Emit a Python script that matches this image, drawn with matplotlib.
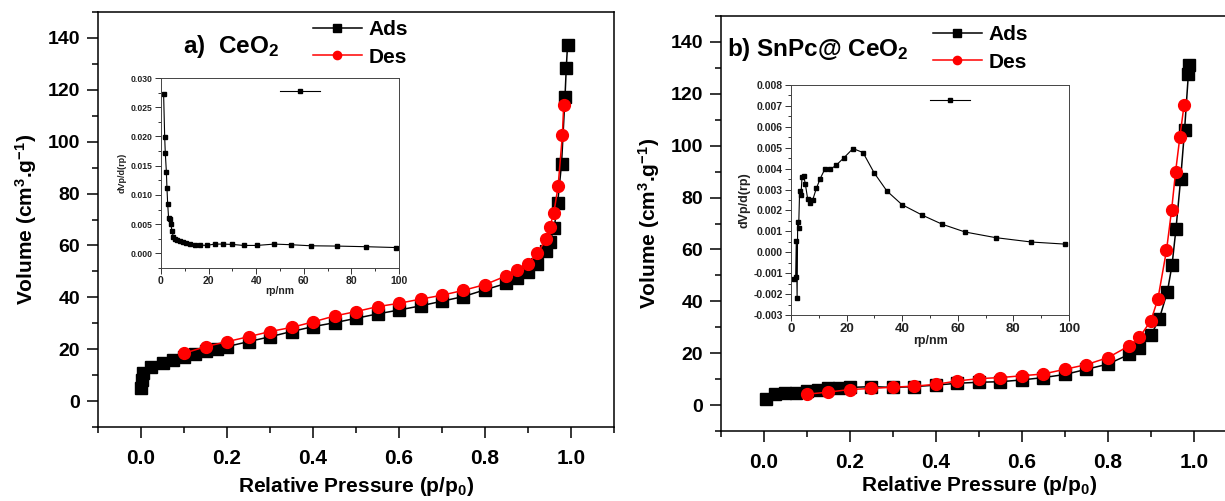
import matplotlib.pyplot as plt
from matplotlib.ticker import MultipleLocator, FormatStrFormatter
from matplotlib.lines import Line2D

plt.rcParams['font.family'] = ['Liberation Sans', 'DejaVu Sans']
plt.rcParams['font.weight'] = 'bold'
plt.rcParams['mathtext.default'] = 'regular'

# a) CeO2 - isotherm
ceo2_ads_p = [0.0, 0.002, 0.005, 0.024, 0.05, 0.075, 0.1, 0.126, 0.151, 0.176, 0.2, 0.25, 0.3,
              0.35, 0.4, 0.45, 0.5, 0.55, 0.6, 0.65, 0.7, 0.75, 0.8, 0.85, 0.875, 0.9, 0.92,
              0.941, 0.951, 0.961, 0.969, 0.978, 0.986, 0.989, 0.992]
ceo2_ads_v = [4.9, 8.1, 10.7, 13.0, 14.5, 15.8, 16.9, 18.0, 19.2, 20.1, 21.0, 22.9, 24.8,
              26.8, 28.7, 30.2, 31.9, 33.6, 35.1, 36.7, 38.5, 40.3, 42.9, 45.4, 47.4, 49.9, 52.9,
              58.0, 61.3, 66.9, 76.4, 91.5, 117.1, 128.4, 137.4]
ceo2_des_p = [0.1, 0.151, 0.2, 0.25, 0.3, 0.35, 0.4, 0.45, 0.5, 0.55, 0.6, 0.65, 0.7, 0.75,
              0.8, 0.85, 0.875, 0.9, 0.922, 0.942, 0.951, 0.96, 0.97, 0.98, 0.983]
ceo2_des_v = [18.4, 21.0, 22.9, 24.8, 26.8, 28.4, 30.5, 32.8, 34.5, 36.4, 37.7, 39.3, 40.8, 42.7,
              44.9, 48.3, 50.6, 52.9, 57.0, 62.4, 67.3, 72.5, 82.8, 102.7, 114.0]

# a) CeO2 - pore size distribution (inset)
ceo2_rp = [1.1, 1.55, 1.8, 2.25, 2.5, 2.8, 3.2, 3.8, 4.2, 4.6, 5.2, 6.0, 6.9, 8.0, 9.3, 10.7,
           12.2, 14.3, 16.4, 19.2, 22.5, 26.0, 30.0, 34.7, 40.3, 47.6, 54.7, 63.0, 74.0, 86.3, 98.7]
ceo2_dv = [0.0272, 0.0199, 0.0172, 0.0140, 0.0112, 0.0085, 0.0060, 0.0059, 0.0050, 0.0038,
           0.00284, 0.0025, 0.00227, 0.0021, 0.00193, 0.00182, 0.00165, 0.00142, 0.00142,
           0.00136, 0.00159, 0.00159, 0.00153, 0.00136, 0.00136, 0.00159, 0.00148, 0.0013,
           0.00125, 0.00114, 0.0010]

# b) SnPc@CeO2 - isotherm
snpc_ads_p = [0.005, 0.025, 0.05, 0.075, 0.1, 0.125, 0.15, 0.175, 0.2, 0.25, 0.3, 0.35, 0.4,
              0.45, 0.5, 0.55, 0.6, 0.65, 0.7, 0.75, 0.8, 0.85, 0.873, 0.9, 0.919, 0.938,
              0.949, 0.958, 0.969, 0.978, 0.987, 0.989]
snpc_ads_v = [2.3, 4.2, 4.5, 4.8, 5.5, 6.0, 6.4, 6.7, 6.8, 7.1, 6.8, 7.1, 7.7,
              8.4, 8.8, 9.0, 9.7, 10.6, 11.8, 13.8, 15.8, 19.6, 22.1, 27.0, 33.1, 43.6,
              54.1, 67.8, 87.3, 105.9, 127.8, 131.3]
snpc_des_p = [0.1, 0.15, 0.2, 0.25, 0.3, 0.35, 0.4, 0.45, 0.5, 0.55, 0.6, 0.65, 0.7, 0.75,
              0.8, 0.85, 0.873, 0.9, 0.916, 0.936, 0.948, 0.957, 0.967, 0.977]
snpc_des_v = [4.2, 5.0, 6.0, 6.4, 6.9, 7.3, 8.0, 9.3, 10.2, 10.6, 11.3, 12.0, 13.8, 15.6,
              18.3, 22.9, 26.1, 32.6, 40.9, 59.6, 75.3, 89.7, 103.2, 115.8]

# b) SnPc@CeO2 - pore size distribution (inset)
snpc_rp = [0.96, 1.68, 1.9, 2.2, 2.4, 2.75, 3.1, 3.6, 3.95, 4.55, 5.15, 6.0, 6.95, 7.8, 9.1,
           10.5, 12.1, 14.1, 16.2, 18.9, 22.3, 25.9, 29.9, 34.5, 39.9, 47.3, 54.4, 62.6,
           73.6, 86.5, 98.6]
snpc_dv = [-0.00128, -0.00116, 0.00056, -0.00217, 0.00147, 0.00115, 0.00295, 0.00273, 0.00359,
           0.00367, 0.00327, 0.00255, 0.00234, 0.0025, 0.00305, 0.00352, 0.00396, 0.00396,
           0.00416, 0.0045, 0.00496, 0.00477, 0.0038, 0.00293, 0.00228, 0.00177, 0.00134,
           0.00097, 0.0007, 0.00049, 0.00039]

W, H = 1225, 501
fig = plt.figure(figsize=(W / 100, H / 100), dpi=100)


def px(l, t, r, b):
    return [l / W, 1 - b / H, (r - l) / W, (b - t) / H]


def main_panel(rect, ads_p, ads_v, des_p, des_v, title, title_pos, leg_anchor, xlabelpad):
    ax = fig.add_axes(rect)
    ax.plot(ads_p, ads_v, '-s', color='black', ms=8, lw=1.1, label='Ads')
    ax.plot(des_p, des_v, '-o', color='red', mfc='red', mec='red', ms=8.5, lw=1.1, label='Des')
    ax.set_xlim(-0.1, 1.1)
    ax.set_ylim(-10, 150)
    ax.xaxis.set_major_locator(MultipleLocator(0.2))
    ax.xaxis.set_minor_locator(MultipleLocator(0.1))
    ax.yaxis.set_major_locator(MultipleLocator(20))
    ax.yaxis.set_minor_locator(MultipleLocator(10))
    ax.xaxis.set_major_formatter(FormatStrFormatter('%.1f'))
    ax.tick_params(which='both', direction='out', top=False, right=False, width=1.1)
    ax.tick_params(which='major', length=8)
    ax.tick_params(which='minor', length=4.5)
    ax.tick_params(axis='x', labelsize=15, pad=8)
    ax.tick_params(axis='y', labelsize=14, pad=5)
    for s in ax.spines.values():
        s.set_linewidth(1.1)
    ax.set_xlabel('Relative Pressure (p/p$_0$)', fontsize=15, fontweight='bold',
                  labelpad=xlabelpad)
    ax.set_ylabel('Volume (cm$^3$.g$^{-1}$)', fontsize=15, fontweight='bold', labelpad=6)
    ax.text(title_pos[0], title_pos[1], title, transform=ax.transAxes, fontsize=17.5,
            fontweight='bold', va='baseline', ha='left')
    ax.legend(loc='upper left', bbox_to_anchor=leg_anchor, bbox_transform=fig.transFigure,
              frameon=False, fontsize=15, handlelength=2.35, handletextpad=0.3,
              labelspacing=0.42, borderpad=0, borderaxespad=0, markerscale=0.7)
    return ax


def inset(rect, rp, dv, ylim, ymaj, ymin, leg_pos, tsize, xtsize, lsize, ylsize, ylabelpad):
    ax = fig.add_axes(rect)
    ax.plot(rp, dv, '-s', color='black', ms=2.3, lw=0.8)
    ax.set_xlim(0, 100)
    ax.set_ylim(*ylim)
    ax.xaxis.set_major_locator(MultipleLocator(20))
    ax.xaxis.set_minor_locator(MultipleLocator(10))
    ax.yaxis.set_major_locator(MultipleLocator(ymaj))
    ax.yaxis.set_minor_locator(MultipleLocator(ymin))
    ax.yaxis.set_major_formatter(FormatStrFormatter('%.3f'))
    ax.tick_params(which='both', direction='out', top=False, right=False, width=0.7,
                   color='#333333', labelcolor='#222222')
    ax.tick_params(which='major', length=4)
    ax.tick_params(which='minor', length=2)
    ax.tick_params(axis='y', labelsize=tsize, pad=2)
    ax.tick_params(axis='x', labelsize=xtsize, pad=2)
    for s in ax.spines.values():
        s.set_linewidth(0.7)
        s.set_color('#444444')
    ax.set_xlabel('rp/nm', fontsize=lsize, fontweight='bold', color='#222222', labelpad=0)
    ax.set_ylabel('dVp/d(rp)', fontsize=ylsize, fontweight='bold', color='#222222',
                  labelpad=ylabelpad)
    handle = Line2D([], [], color='black', marker='s', ms=2.3, lw=0.8)
    ax.legend([handle], [''], loc='center', bbox_to_anchor=leg_pos, frameon=False,
              fontsize=tsize, handlelength=40 / (tsize * 100 / 72), handletextpad=0,
              borderpad=0, borderaxespad=0)
    return ax


main_panel(px(98, 12, 614, 427), ceo2_ads_p, ceo2_ads_v, ceo2_des_p, ceo2_des_v,
           'a)  CeO$_2$', (0.165, 0.902), (313 / W, 1 - 20 / H), 5)
inset(px(161, 78, 399, 268), ceo2_rp, ceo2_dv, (-0.0025, 0.030), 0.005, 0.0025,
      (0.584, 0.928), 6.2, 7.5, 7.5, 6.5, 3)

main_panel(px(721, 16, 1237, 431), snpc_ads_p, snpc_ads_v, snpc_des_p, snpc_des_v,
           'b) SnPc@ CeO$_2$', (0.012, 0.904), (933 / W, 1 - 25 / H), 1.5)
inset(px(791, 85, 1069, 315), snpc_rp, snpc_dv, (-0.003, 0.008), 0.001, 0.0005,
      (0.571, 0.932), 7.5, 9.5, 9, 9, 2)

fig.savefig('out.png', dpi=100, facecolor='white')
